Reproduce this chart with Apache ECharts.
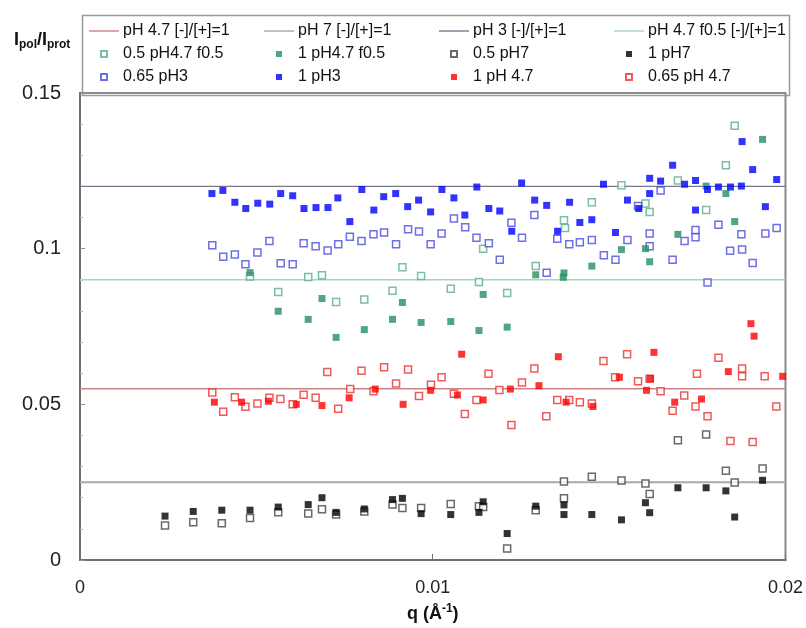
<!DOCTYPE html>
<html>
<head>
<meta charset="utf-8">
<script src="https://cdn.jsdelivr.net/npm/echarts@6/dist/echarts.min.js"></script>
<style>
html,body{margin:0;padding:0;background:#fff;}
#c{width:806px;height:628px;}
</style>
</head>
<body>
<div id="c"></div>
<script>
// ---- data ----
const xTicks = [0, 0.01, 0.02];
const yTicks = [0, 0.05, 0.1, 0.15];
const refRanges = [0, 0.02];
const refPH47 = 0.055;
const refPH7 = 0.025;
const refPH3 = 0.12;
const refPH47f = 0.09;

const pH47f05_05 = [[0.00482,0.0911],[0.00562,0.0861],[0.00647,0.0909],[0.00686,0.0915],[0.00726,0.0829],[0.00806,0.0837],[0.00886,0.0865],[0.00914,0.0940],[0.00967,0.0912],[0.01051,0.0871],[0.01131,0.0893],[0.01143,0.1000],[0.01211,0.0858],[0.01292,0.0944],[0.01372,0.1091],[0.01375,0.1066],[0.01451,0.1149],[0.01535,0.1204],[0.01603,0.1145],[0.01615,0.1118],[0.01695,0.1219],[0.01775,0.1124],[0.01831,0.1268],[0.01856,0.1395]];
const pH47f05_1 = [[0.00482,0.0923],[0.00562,0.0799],[0.00647,0.0773],[0.00686,0.0840],[0.00726,0.0715],[0.00806,0.0740],[0.00886,0.0773],[0.00914,0.0827],[0.00967,0.0763],[0.01051,0.0766],[0.01131,0.0737],[0.01143,0.0853],[0.01211,0.0748],[0.01292,0.0916],[0.01372,0.0922],[0.01370,0.0908],[0.01451,0.0944],[0.01535,0.0997],[0.01603,0.1000],[0.01615,0.0958],[0.01695,0.1046],[0.01775,0.1201],[0.01831,0.1177],[0.01856,0.1087],[0.01935,0.1351]];
const pH7_05 = [[0.00241,0.0111],[0.00321,0.0121],[0.00402,0.0118],[0.00482,0.0135],[0.00562,0.0153],[0.00647,0.0149],[0.00686,0.0163],[0.00726,0.0146],[0.00806,0.0156],[0.00886,0.0178],[0.00914,0.0167],[0.00967,0.0167],[0.01051,0.0180],[0.01131,0.0173],[0.01143,0.0170],[0.01211,0.0037],[0.01292,0.0160],[0.01372,0.0252],[0.01372,0.0198],[0.01451,0.0267],[0.01535,0.0255],[0.01603,0.0246],[0.01615,0.0212],[0.01695,0.0385],[0.01775,0.0403],[0.01831,0.0287],[0.01856,0.0249],[0.01935,0.0294]];
const pH7_1 = [[0.00241,0.0141],[0.00321,0.0156],[0.00402,0.0160],[0.00482,0.0160],[0.00562,0.0170],[0.00647,0.0178],[0.00686,0.0200],[0.00726,0.0153],[0.00806,0.0164],[0.00886,0.0194],[0.00914,0.0198],[0.00967,0.0149],[0.01051,0.0146],[0.01131,0.0153],[0.01143,0.0187],[0.01211,0.0085],[0.01292,0.0173],[0.01372,0.0177],[0.01372,0.0146],[0.01451,0.0146],[0.01535,0.0129],[0.01603,0.0184],[0.01615,0.0152],[0.01695,0.0232],[0.01775,0.0232],[0.01831,0.0222],[0.01856,0.0138],[0.01935,0.0256]];
const pH3_065 = [[0.00375,0.1011],[0.00406,0.0974],[0.00439,0.0981],[0.00469,0.0950],[0.00503,0.0988],[0.00537,0.1025],[0.00569,0.0953],[0.00603,0.0950],[0.00634,0.1017],[0.00668,0.1008],[0.00702,0.0994],[0.00732,0.1014],[0.00765,0.1038],[0.00798,0.1025],[0.00832,0.1046],[0.00862,0.1052],[0.00896,0.1014],[0.00930,0.1062],[0.00961,0.1055],[0.00994,0.1014],[0.01025,0.1049],[0.01060,0.1097],[0.01092,0.1069],[0.01124,0.1035],[0.01159,0.1017],[0.01190,0.0964],[0.01223,0.1083],[0.01253,0.1035],[0.01288,0.1108],[0.01323,0.0923],[0.01353,0.1032],[0.01387,0.1014],[0.01417,0.1021],[0.01451,0.1028],[0.01485,0.0979],[0.01518,0.0964],[0.01552,0.1028],[0.01582,0.1137],[0.01615,0.1049],[0.01615,0.1008],[0.01646,0.1187],[0.01680,0.0964],[0.01714,0.1025],[0.01745,0.1060],[0.01745,0.1037],[0.01779,0.0891],[0.01810,0.1077],[0.01843,0.0993],[0.01875,0.1046],[0.01877,0.0997],[0.01907,0.0954],[0.01943,0.1049],[0.01975,0.1066]];
const pH3_1 = [[0.00374,0.1177],[0.00405,0.1187],[0.00439,0.1149],[0.00470,0.1129],[0.00504,0.1146],[0.00538,0.1143],[0.00569,0.1177],[0.00603,0.1170],[0.00635,0.1129],[0.00669,0.1132],[0.00703,0.1132],[0.00731,0.1163],[0.00765,0.1087],[0.00799,0.1190],[0.00833,0.1124],[0.00861,0.1167],[0.00895,0.1177],[0.00929,0.1135],[0.00960,0.1156],[0.00994,0.1118],[0.01026,0.1190],[0.01060,0.1163],[0.01091,0.1108],[0.01125,0.1198],[0.01159,0.1129],[0.01190,0.1121],[0.01224,0.1056],[0.01252,0.1211],[0.01289,0.1156],[0.01323,0.1139],[0.01354,0.1056],[0.01388,0.1149],[0.01417,0.1084],[0.01451,0.1093],[0.01484,0.1207],[0.01518,0.1052],[0.01552,0.1156],[0.01584,0.1129],[0.01615,0.1226],[0.01615,0.1177],[0.01646,0.1217],[0.01680,0.1268],[0.01714,0.1207],[0.01745,0.1219],[0.01745,0.1124],[0.01779,0.1190],[0.01810,0.1198],[0.01844,0.1198],[0.01875,0.1201],[0.01877,0.1344],[0.01907,0.1254],[0.01943,0.1135],[0.01975,0.1222]];
const pH47_1 = [[0.00381,0.0507],[0.00458,0.0507],[0.00534,0.0510],[0.00613,0.0500],[0.00686,0.0496],[0.00763,0.0521],[0.00837,0.0549],[0.00916,0.0500],[0.00994,0.0545],[0.01070,0.0530],[0.01082,0.0661],[0.01143,0.0514],[0.01220,0.0549],[0.01301,0.0560],[0.01356,0.0653],[0.01378,0.0507],[0.01454,0.0493],[0.01529,0.0587],[0.01606,0.0545],[0.01617,0.0583],[0.01627,0.0667],[0.01686,0.0507],[0.01762,0.0517],[0.01838,0.0605],[0.01902,0.0759],[0.01911,0.0719],[0.01992,0.0590]];
const pH47_065 = [[0.00375,0.0538],[0.00406,0.0476],[0.00439,0.0523],[0.00469,0.0492],[0.00503,0.0503],[0.00537,0.0521],[0.00568,0.0517],[0.00603,0.0500],[0.00634,0.0531],[0.00668,0.0521],[0.00701,0.0604],[0.00732,0.0486],[0.00766,0.0549],[0.00798,0.0608],[0.00832,0.0542],[0.00862,0.0619],[0.00896,0.0567],[0.00930,0.0612],[0.00961,0.0527],[0.00995,0.0563],[0.01025,0.0587],[0.01060,0.0534],[0.01091,0.0469],[0.01124,0.0514],[0.01158,0.0598],[0.01189,0.0546],[0.01223,0.0434],[0.01253,0.0570],[0.01288,0.0615],[0.01322,0.0462],[0.01353,0.0514],[0.01387,0.0514],[0.01417,0.0507],[0.01451,0.0503],[0.01484,0.0639],[0.01517,0.0587],[0.01551,0.0661],[0.01582,0.0574],[0.01615,0.0582],[0.01646,0.0542],[0.01680,0.0479],[0.01713,0.0528],[0.01745,0.0493],[0.01749,0.0598],[0.01779,0.0462],[0.01810,0.0650],[0.01844,0.0382],[0.01877,0.0615],[0.01877,0.0590],[0.01907,0.0379],[0.01941,0.0590],[0.01974,0.0493]];

// ---- chart ----
const FONT = '"Liberation Sans", Arial, sans-serif';
const SQ = 'path://M0 0H10V10H0Z';
const LN = 'path://M0 0H30V1.4H0Z';
const chart = echarts.init(document.getElementById('c'), null, {renderer: 'canvas'});

function refLine(name, y, color, width) {
  return {
    name, type: 'line', data: refRanges.map(x => [x, y]),
    symbol: 'none', silent: true, z: 1,
    lineStyle: {color, width}, itemStyle: {color}
  };
}
function openSq(name, data, color) {
  return {
    name, type: 'scatter', data, symbol: 'rect', symbolSize: 7, z: 3,
    itemStyle: {color: '#ffffff', borderColor: color, borderWidth: 1.5}
  };
}
function fillSq(name, data, color) {
  return {
    name, type: 'scatter', data, symbol: 'rect', symbolSize: 7, z: 4,
    itemStyle: {color}
  };
}

const legendBase = {
  orient: 'vertical', top: 18, itemGap: 7, itemWidth: 30, itemHeight: 6,
  textStyle: {fontFamily: FONT, fontSize: 16, color: '#111', padding: [0, 0, 0, -1]},
  symbolKeepAspect: true, selectedMode: false
};
function legCol(left, names) {
  return Object.assign({}, legendBase, {
    left,
    data: names.map(n => (n.startsWith('pH') ? {name: n, icon: LN} : {name: n, icon: SQ}))
  });
}

chart.setOption({
  animation: false,
  backgroundColor: '#fff',
  title: {
    text: 'I{s|pol}/I{s|prot}', left: 9, top: 24,
    textStyle: {
      fontFamily: FONT, fontSize: 18, fontWeight: 'bold', color: '#111',
      rich: {s: {fontFamily: FONT, fontSize: 12, fontWeight: 'bold', color: '#111', verticalAlign: 'bottom', padding: [10, 0, 0, 0]}}
    }
  },
  legend: [
    legCol(84, ['pH 4.7 [-]/[+]=1', '0.5 pH4.7 f0.5', '0.65 pH3']),
    legCol(259, ['pH 7 [-]/[+]=1', '1 pH4.7 f0.5', '1 pH3']),
    legCol(434, ['pH 3 [-]/[+]=1', '0.5 pH7', '1 pH 4.7']),
    legCol(609, ['pH 4.7 f0.5 [-]/[+]=1', '1 pH7', '0.65 pH 4.7'])
  ],
  graphic: [{
    type: 'rect', left: 80, top: 13, z: -1,
    shape: {width: 707, height: 80},
    style: {fill: 'none', stroke: '#9a9a9a', lineWidth: 1.5}
  }],
  grid: {left: 80, right: 20, top: 93, bottom: 65, show: true, borderColor: '#8a8a8a', borderWidth: 2, backgroundColor: 'transparent'},
  xAxis: {
    type: 'value', min: xTicks[0], max: xTicks[xTicks.length - 1], interval: 0.01,
    name: 'q (Å{sup|-1})', nameLocation: 'middle', nameGap: 43,
    nameTextStyle: {fontFamily: FONT, fontSize: 18, fontWeight: 'bold', color: '#111',
      rich: {sup: {fontFamily: FONT, fontSize: 12, fontWeight: 'bold', color: '#111', verticalAlign: 'top', padding: [0, 0, 10, 0]}}},
    axisLine: {show: true, lineStyle: {color: '#707070', width: 2}},
    axisTick: {show: true, inside: true, length: 6, lineStyle: {color: '#707070'}},
    splitLine: {show: false},
    axisLabel: {fontFamily: FONT, fontSize: 18, color: '#222', margin: 19,
      formatter: v => String(+v.toFixed(4))}
  },
  yAxis: {
    type: 'value', min: yTicks[0], max: yTicks[yTicks.length - 1], interval: 0.05,
    axisLine: {show: true, lineStyle: {color: '#707070', width: 2}},
    axisTick: {show: true, inside: true, length: 5, lineStyle: {color: '#909090'}},
    minorTick: {show: true, splitNumber: 5, length: 3, lineStyle: {color: '#b0b0b0'}},
    splitLine: {show: false},
    axisLabel: {fontFamily: FONT, fontSize: 20, color: '#222', margin: 19,
      formatter: v => String(+v.toFixed(4))}
  },
  series: [
    refLine('pH 4.7 [-]/[+]=1', refPH47, '#c98383', 1.4),
    refLine('pH 7 [-]/[+]=1', refPH7, '#a8a8a8', 2),
    refLine('pH 3 [-]/[+]=1', refPH3, '#77778f', 1.4),
    refLine('pH 4.7 f0.5 [-]/[+]=1', refPH47f, '#a6d6c0', 1.4),
    openSq('0.5 pH4.7 f0.5', pH47f05_05, '#5aae88'),
    fillSq('1 pH4.7 f0.5', pH47f05_1, '#239060'),
    openSq('0.5 pH7', pH7_05, '#444444'),
    fillSq('1 pH7', pH7_1, '#000000'),
    openSq('0.65 pH3', pH3_065, '#4a4ae0'),
    fillSq('1 pH3', pH3_1, '#0000ff'),
    fillSq('1 pH 4.7', pH47_1, '#ff0000'),
    openSq('0.65 pH 4.7', pH47_065, '#ee3030')
  ]
});
</script>
</body>
</html>
